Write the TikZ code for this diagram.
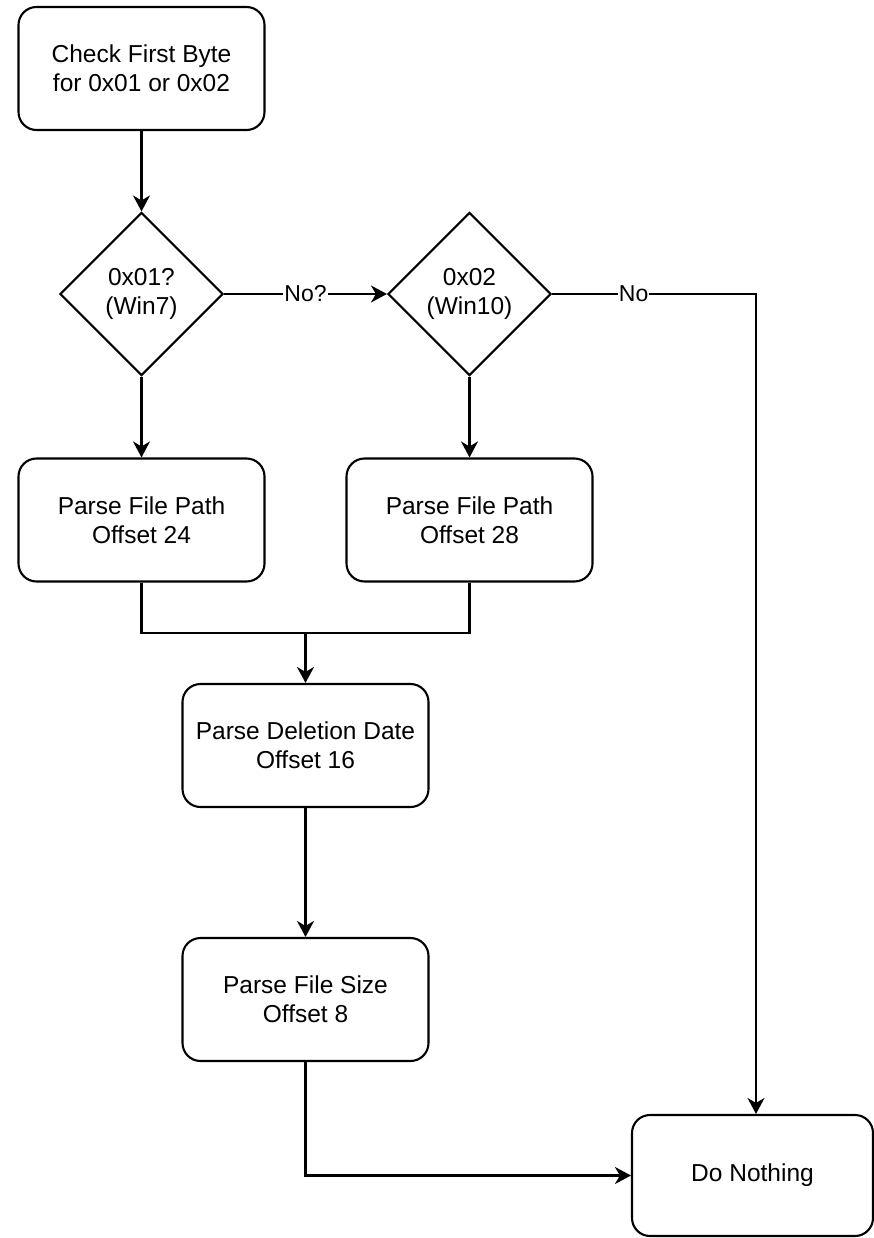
\documentclass[tikz,border=0pt]{standalone}
\usepackage{fontspec}
\setmainfont{Liberation Sans}
\usetikzlibrary{shapes.geometric,arrows.meta}
\begin{document}
\begin{tikzpicture}[x=1pt,y=-1pt,
  every node/.style={font=\fontsize{24.5pt}{29pt}\selectfont, text=black},
  box/.style={draw, line width=2.1pt, rounded corners=18pt, minimum width=246pt, minimum height=123pt, align=center, inner sep=0pt},
  dia/.style={draw, line width=2.1pt, diamond, aspect=1, minimum width=163pt, minimum height=163pt, align=center, inner sep=0pt},
  conn/.style={line width=2.1pt},
  arr/.style={conn, -{Stealth[length=16pt,width=17pt,inset=5pt]}},
  lbl/.style={fill=white, inner sep=1pt, font=\fontsize{23pt}{27pt}\selectfont}
]
\fill[white] (0,0) rectangle (874,1238);
\useasboundingbox (0,0) rectangle (874,1238);

\node[box] (a) at (141.5,68.5) {Check First Byte\\for 0x01 or 0x02};
\node[dia] (d1) at (141.5,294) {0x01?\\(Win7)};
\node[dia] (d2) at (469.5,294) {0x02\\(Win10)};
\node[box] (b1) at (141.5,520) {Parse File Path\\Offset 24};
\node[box] (b2) at (469.5,520) {Parse File Path\\Offset 28};
\node[box] (c) at (305.5,745.5) {Parse Deletion Date\\Offset 16};
\node[box] (e) at (305.5,999.5) {Parse File Size\\Offset 8};
\node[box, minimum width=241pt, minimum height=121pt] (f) at (752.5,1175.5) {Do Nothing};

\coordinate (j) at (305.5,632.7);
\coordinate (k) at (756,294);

\draw[arr] (a.south) -- (d1.north);
\draw[arr] (d1.east) -- node[lbl]{No?} (d2.west);
\draw[arr] (d2.east) -- node[lbl,pos=0.4]{No} (k) -- (k |- f.north);
\draw[arr] (d1.south) -- (b1.north);
\draw[arr] (d2.south) -- (b2.north);
\draw[conn] (b1.south) |- (j) -| (b2.south);
\draw[arr] (j) -- (c.north);
\draw[arr] (c.south) -- (e.north);
\draw[arr] (e.south) |- (f.west);
\end{tikzpicture}
\end{document}
